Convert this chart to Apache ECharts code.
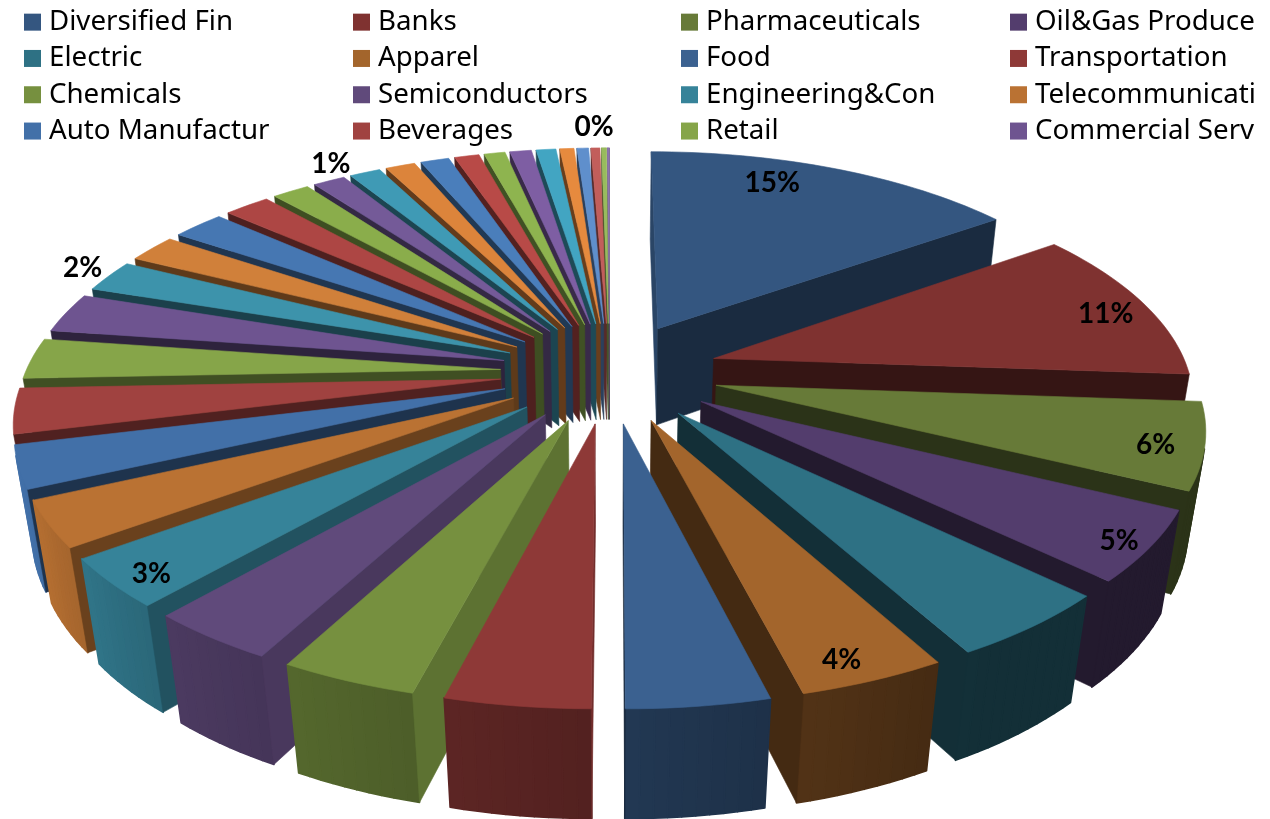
<!DOCTYPE html>
<html><head><meta charset="utf-8">
<style>html,body{margin:0;padding:0;background:#fff}#c{width:1270px;height:819px}</style>
<script src="https://cdn.jsdelivr.net/npm/echarts@6/dist/echarts.min.js"></script>
</head><body><div id="c"></div>
<script>
const legendNames = ['Diversified Fin','Banks','Pharmaceuticals','Oil&Gas Produce','Electric','Apparel','Food','Transportation','Chemicals','Semiconductors','Engineering&Con','Telecommunicati','Auto Manufactur','Beverages','Retail','Commercial Serv'];
const values = [15.1,11,6.1,4.95,4.75,4.1,3.95,4,3.8,3.6,3.45,3.25,3,3.2,2.9,2.85,2.3,2,2.1,1.85,1.5,1.3,1.25,1.2,1.15,1,.85,.87,.8,.57,.47,.36,.2,.08];
const colors = ['#345680','#7f3230','#677a38','#533d6d','#2e7184','#a3652c',
 '#3b6190','#8e3937','#76903f','#604a7b','#368399','#ba7233',
 '#4270a8','#a04240','#86a549','#6e5490','#3d93ab','#d0803a',
 '#4677b2','#ad4644','#8aad4b','#745a98','#3f9ab5','#dc843b',
 '#4a7ebb','#b84a47','#8eb44f','#7e5ea3','#42a5c2','#e68a3e',
 '#5f8fcc','#c25e5b','#98bb5d','#8c74ae'];
const labelledSlices = [0,1,2,3,5,10,16,21,31];
const labelRadii = [.853,.896,.905,.943,.925,.93,1.08,1.09,1.139];
const labelSpans = [.37,.55,.56,.55,.6,.38,.6,1.1,.5];

// view model of the tilted, exploded pie
const view = {cx:609.5, cy:372, R:475, K:219, H:101, p:0.164, d:0.03, explode:0.23};
const names = values.map((v,i)=> legendNames[i] || ('Other '+(i+1)));
const total = values.reduce((a,b)=>a+b,0);
let acc = 0;
const arcs = values.map(v=>{ const s=acc/total*360; acc+=v; return [s, acc/total*360]; });
const rad = d => d*Math.PI/180;
function project(X,Y,bottom){
  const w = 1 - view.p*Y + (bottom?view.d:0);
  return [view.cx + view.R*X/w, view.cy + (view.K*Y + (bottom?view.H:0))/w];
}
function shade(hex,f){
  const n=parseInt(hex.slice(1),16);
  const c=[n>>16,(n>>8)&255,n&255].map(x=>Math.round(x*f));
  return 'rgb('+c.join(',')+')';
}
function lerpTable(tbl,x){
  if(x<=tbl[0][0]) return tbl[0][1];
  for(let i=1;i<tbl.length;i++){ if(x<=tbl[i][0]){const a=tbl[i-1],b=tbl[i];return a[1]+(b[1]-a[1])*(x-a[0])/(b[0]-a[0]);} }
  return tbl[tbl.length-1][1];
}
const arcLight=[[150,.42],[175,.55],[190,.63],[205,.7],[220,.78],[235,.9],[250,1]];
const startLight=[[190,.8],[208,.76],[221,.63],[233,.58],[244,.45],[256,.5],[267,.48],[277,.42],[296,.45]];
function area(p){let s=0;for(let i=0;i<p.length;i++){const a=p[i],b=p[(i+1)%p.length];s+=a[0]*b[1]-b[0]*a[1];}return s/2;}

function renderSlice(idx){
  return function(params,api){
    const [s,e]=arcs[idx];
    const share=api.value(0);
    const m=(s+e)/2;
    const ox=view.explode*Math.sin(rad(m)), oy=-view.explode*Math.cos(rad(m));
    const pt=(t,b)=>project(ox+Math.sin(rad(t)),oy-Math.cos(rad(t)),b);
    const apexT=project(ox,oy,false), apexB=project(ox,oy,true);
    const kids=[];
    const col=colors[idx];
    const poly=(pts,fill,lw)=>kids.push({type:'polygon',shape:{points:pts},style:{fill:fill,stroke:fill,lineWidth:lw,lineJoin:'round'}});
    // outer wall facets first, then radial walls, then the top
    const steps=Math.max(1,Math.ceil((e-s)/1.5));
    for(let i=0;i<steps;i++){
      const a=s+(e-s)*i/steps,b=s+(e-s)*(i+1)/steps;
      const q=[pt(a,false),pt(b,false),pt(b,true),pt(a,true)];
      if(area(q)<0) poly(q,shade(col,lerpTable(arcLight,(a+b)/2)),1.6);
    }
    const wS=[apexT,pt(s,false),pt(s,true),apexB];
    if(area(wS)<0) poly(wS,shade(col,lerpTable(startLight,s)),0.6);
    const wE=[pt(e,false),apexT,apexB,pt(e,true)];
    if(area(wE)<0) poly(wE,shade(col,e<60?0.5:0.42),0.6);
    const top=[apexT];
    for(let i=0;i<=steps;i++) top.push(pt(s+(e-s)*i/steps,false));
    poly(top,col,0.6);
    const li=labelledSlices.indexOf(idx);
    if(li>=0){
      const r=labelRadii[li], t=s+(e-s)*labelSpans[li];
      const lp=project(ox+r*Math.sin(rad(t)),oy-r*Math.cos(rad(t)),false);
      kids.push({type:'text',z2:50,style:{x:lp[0],y:lp[1],text:Math.round(share/total*100)+'%',
        fill:'#000',font:'bold 28px Lato',align:'center',verticalAlign:'middle'}});
    }
    return {type:'group',children:kids};
  };
}
const order = values.map((v,i)=>i).sort((a,b)=>{
  const ma=(arcs[a][0]+arcs[a][1])/2, mb=(arcs[b][0]+arcs[b][1])/2;
  return -Math.cos(rad(ma)) - -Math.cos(rad(mb));
});
const series = order.map(i=>({
  type:'custom',name:names[i],coordinateSystem:'none',silent:true,
  itemStyle:{color:colors[i]},data:[[values[i]]],renderItem:renderSlice(i),clip:false
}));
const columnLeft=[24,353,681,1010];
const legend=columnLeft.map((left,c)=>({
  orient:'vertical',left:left,top:5,padding:0,itemGap:2,itemWidth:17,itemHeight:17,icon:'rect',
  selectedMode:false,
  textStyle:{fontFamily:'Noto Sans',fontSize:27.7,color:'#000',padding:[0,0,0,3],lineHeight:34.3,height:34.3},
  data:[0,1,2,3].map(r=>names[r*4+c])
}));
const chart=echarts.init(document.getElementById('c'),null,{renderer:'canvas'});
chart.setOption({animation:false,backgroundColor:'#fff',legend:legend,series:series});
</script></body></html>
